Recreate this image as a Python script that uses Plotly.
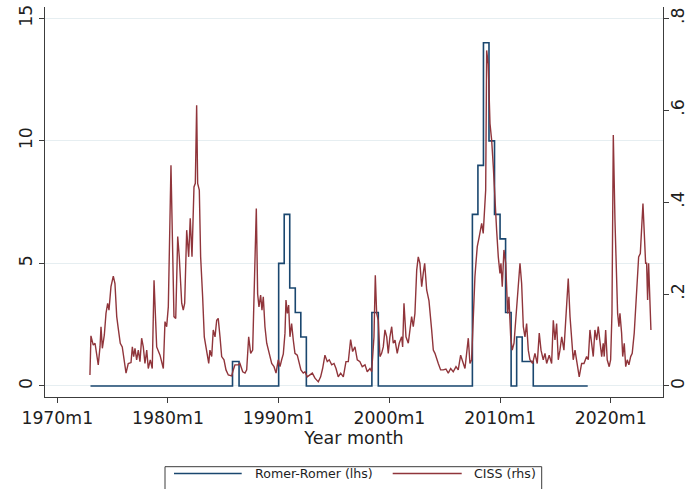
import plotly.graph_objects as go

# Romer-Romer monetary shock index (left axis), stepwise: value holds until next date
rr_year = [1973.0, 1985.83, 1986.42, 1990.0, 1990.5, 1991.0, 1991.5, 1992.0, 1992.5,
           1998.42, 1999.0, 2007.5, 2008.0, 2008.5, 2009.0, 2009.5, 2010.0, 2010.5,
           2011.0, 2011.5, 2012.0, 2013.0, 2017.92]
rr_value = [0, 1, 0, 5, 7, 4, 3, 2, 0,
            3, 0, 7, 9, 14, 10, 7, 6, 3,
            0, 2, 1, 0, 0]

# CISS financial stress index (right axis)
ciss_year = [
    1972.95, 1973.04, 1973.25, 1973.41, 1973.70, 1973.86, 1973.95, 1974.07, 1974.25, 1974.40,
    1974.55, 1974.67, 1974.85, 1975.06, 1975.21, 1975.37, 1975.51, 1975.69, 1975.87, 1976.05,
    1976.21, 1976.41, 1976.66, 1976.78, 1976.90, 1977.02, 1977.17, 1977.32, 1977.47, 1977.62,
    1977.77, 1977.92, 1978.08, 1978.22, 1978.40, 1978.58, 1978.74, 1978.98, 1979.28, 1979.58,
    1979.73, 1979.88, 1980.03, 1980.27, 1980.54, 1980.70, 1980.88, 1981.02, 1981.24, 1981.38,
    1981.51, 1981.69, 1981.87, 1982.01, 1982.17, 1982.35, 1982.47, 1982.59, 1982.68, 1982.83,
    1982.95, 1983.13, 1983.28, 1983.43, 1983.55, 1983.68, 1983.79, 1983.95, 1984.09, 1984.25,
    1984.40, 1984.54, 1984.70, 1984.85, 1985.06, 1985.24, 1985.45, 1985.75, 1985.90, 1986.05,
    1986.35, 1986.50, 1986.75, 1986.96, 1987.11, 1987.29, 1987.47, 1987.65, 1987.86, 1987.98,
    1988.10, 1988.22, 1988.37, 1988.49, 1988.61, 1988.76, 1988.92, 1989.15, 1989.37, 1989.58,
    1989.76, 1989.96, 1990.12, 1990.27, 1990.42, 1990.57, 1990.66, 1990.78, 1990.90, 1991.02,
    1991.17, 1991.32, 1991.47, 1991.68, 1991.83, 1992.01, 1992.22, 1992.38, 1992.58, 1992.83,
    1993.04, 1993.28, 1993.58, 1993.79, 1993.97, 1994.18, 1994.39, 1994.57, 1994.79, 1995.00,
    1995.18, 1995.38, 1995.60, 1995.84, 1996.08, 1996.29, 1996.50, 1996.68, 1996.89, 1997.10,
    1997.34, 1997.55, 1997.80, 1998.00, 1998.25, 1998.40, 1998.61, 1998.73, 1998.85, 1999.00,
    1999.15, 1999.30, 1999.45, 1999.60, 1999.76, 1999.90, 2000.05, 2000.21, 2000.35, 2000.51,
    2000.71, 2000.89, 2001.11, 2001.20, 2001.32, 2001.50, 2001.71, 2001.86, 2002.01, 2002.16,
    2002.31, 2002.47, 2002.61, 2002.76, 2002.92, 2003.06, 2003.19, 2003.37, 2003.58, 2003.82,
    2003.97, 2004.12, 2004.27, 2004.42, 2004.63, 2004.87, 2005.11, 2005.32, 2005.54, 2005.77,
    2006.02, 2006.22, 2006.44, 2006.68, 2006.83, 2007.13, 2007.28, 2007.43, 2007.58, 2007.73,
    2007.82, 2007.94, 2008.12, 2008.34, 2008.48, 2008.57, 2008.70, 2008.79, 2008.93, 2009.09,
    2009.24, 2009.39, 2009.54, 2009.69, 2009.84, 2009.99, 2010.08, 2010.20, 2010.35, 2010.51,
    2010.69, 2010.80, 2010.96, 2011.10, 2011.26, 2011.44, 2011.64, 2011.80, 2011.95, 2012.10,
    2012.25, 2012.40, 2012.55, 2012.70, 2012.95, 2013.15, 2013.36, 2013.54, 2013.70, 2013.90,
    2014.06, 2014.21, 2014.44, 2014.66, 2014.81, 2014.96, 2015.11, 2015.26, 2015.41, 2015.57,
    2015.77, 2015.95, 2016.16, 2016.32, 2016.47, 2016.61, 2016.77, 2016.97, 2017.15, 2017.37,
    2017.58, 2017.82, 2017.97, 2018.12, 2018.27, 2018.42, 2018.57, 2018.73, 2018.87, 2019.02,
    2019.18, 2019.32, 2019.41, 2019.54, 2019.68, 2019.86, 2019.99, 2020.11, 2020.23, 2020.38,
    2020.53, 2020.62, 2020.74, 2020.83, 2020.98, 2021.08, 2021.22, 2021.35, 2021.49, 2021.64,
    2021.80, 2021.94, 2022.12, 2022.25, 2022.39, 2022.52, 2022.67, 2022.79, 2022.91, 2023.03,
    2023.15, 2023.24, 2023.33, 2023.42, 2023.54, 2023.63,
]
ciss_value = [
    0.024, 0.109, 0.089, 0.093, 0.046, 0.085, 0.129, 0.082, 0.111, 0.158,
    0.180, 0.165, 0.216, 0.239, 0.223, 0.151, 0.125, 0.093, 0.085, 0.053,
    0.028, 0.049, 0.051, 0.085, 0.064, 0.082, 0.057, 0.078, 0.053, 0.104,
    0.085, 0.049, 0.078, 0.038, 0.057, 0.038, 0.230, 0.085, 0.067, 0.038,
    0.140, 0.129, 0.172, 0.480, 0.151, 0.147, 0.325, 0.281, 0.180, 0.165,
    0.180, 0.339, 0.281, 0.365, 0.281, 0.433, 0.441, 0.611, 0.441, 0.426,
    0.281, 0.194, 0.107, 0.085, 0.064, 0.049, 0.078, 0.064, 0.122, 0.107,
    0.143, 0.147, 0.107, 0.064, 0.057, 0.035, 0.024, 0.022, 0.035, 0.046,
    0.046, 0.049, 0.031, 0.028, 0.035, 0.107, 0.071, 0.078, 0.274, 0.386,
    0.200, 0.172, 0.198, 0.165, 0.194, 0.129, 0.093, 0.071, 0.049, 0.042,
    0.028, 0.057, 0.042, 0.057, 0.070, 0.115, 0.187, 0.158, 0.176, 0.107,
    0.136, 0.100, 0.071, 0.067, 0.049, 0.035, 0.028, 0.031, 0.020, 0.024,
    0.028, 0.017, 0.009, 0.020, 0.038, 0.067, 0.053, 0.057, 0.046, 0.049,
    0.038, 0.020, 0.028, 0.020, 0.053, 0.053, 0.101, 0.075, 0.085, 0.057,
    0.053, 0.042, 0.046, 0.031, 0.038, 0.031, 0.107, 0.241, 0.158, 0.143,
    0.064, 0.071, 0.085, 0.122, 0.107, 0.071, 0.107, 0.129, 0.093, 0.100,
    0.071, 0.093, 0.107, 0.085, 0.180, 0.107, 0.093, 0.122, 0.151, 0.129,
    0.158, 0.252, 0.281, 0.267, 0.216, 0.245, 0.267, 0.209, 0.185, 0.122,
    0.078, 0.071, 0.057, 0.049, 0.035, 0.035, 0.037, 0.028, 0.038, 0.031,
    0.042, 0.035, 0.067, 0.049, 0.038, 0.104, 0.049, 0.057, 0.172, 0.238,
    0.267, 0.303, 0.325, 0.354, 0.332, 0.368, 0.426, 0.730, 0.700, 0.571,
    0.535, 0.477, 0.397, 0.339, 0.281, 0.245, 0.267, 0.216, 0.296, 0.267,
    0.158, 0.194, 0.107, 0.078, 0.093, 0.158, 0.223, 0.267, 0.223, 0.129,
    0.107, 0.136, 0.078, 0.057, 0.049, 0.071, 0.049, 0.115, 0.078, 0.057,
    0.071, 0.049, 0.067, 0.049, 0.143, 0.100, 0.136, 0.057, 0.078, 0.107,
    0.078, 0.151, 0.234, 0.151, 0.107, 0.057, 0.078, 0.042, 0.020, 0.049,
    0.049, 0.064, 0.057, 0.122, 0.085, 0.064, 0.122, 0.100, 0.129, 0.100,
    0.064, 0.093, 0.064, 0.122, 0.057, 0.042, 0.057, 0.158, 0.546, 0.361,
    0.245, 0.158, 0.129, 0.158, 0.115, 0.064, 0.093, 0.042, 0.057, 0.046,
    0.064, 0.071, 0.115, 0.172, 0.216, 0.281, 0.288, 0.346, 0.397, 0.332,
    0.267, 0.267, 0.187, 0.267, 0.147, 0.122,
]

x_ticks = [1970, 1980, 1990, 2000, 2010, 2020]
x_ticktext = ["1970m1", "1980m1", "1990m1", "2000m1", "2010m1", "2020m1"]
lhs_ticks = [0, 5, 10, 15]
rhs_ticks = [0, 0.2, 0.4, 0.6, 0.8]
rhs_ticktext = ["0", ".2", ".4", ".6", ".8"]

NAVY = "#1a476f"
MAROON = "#90353b"
AXIS = "#3c3c3c"
TEXT = "#1e1e1e"
FONT = "DejaVu Sans"

W, H = 688, 489
ML, MR, MT, MB = 45, 25, 7, 92
PW, PH = W - ML - MR, H - MT - MB


def px_x(px):
    return (px - ML) / PW


def px_y(py):
    return (H - MB - py) / PH


fig = go.Figure()
fig.add_trace(go.Scatter(
    x=rr_year, y=rr_value, mode="lines", name="Romer-Romer (lhs)",
    line=dict(color=NAVY, width=1.6, shape="hv"), yaxis="y",
))
fig.add_trace(go.Scatter(
    x=ciss_year, y=ciss_value, mode="lines", name="CISS (rhs)",
    line=dict(color=MAROON, width=1.4), yaxis="y2",
))

lhs_range = [-0.449, 15.46]
rhs_range = [v * 0.8 / 15 for v in lhs_range]

tick_font = dict(family=FONT, size=17.3, color=TEXT)

fig.update_layout(
    width=W, height=H,
    margin=dict(l=ML, r=MR, t=MT, b=MB, autoexpand=False),
    paper_bgcolor="white", plot_bgcolor="white",
    showlegend=False,
    font=dict(family=FONT, color=TEXT),
    xaxis=dict(
        range=[1968.89, 2024.72], tickvals=x_ticks, ticktext=x_ticktext,
        ticks="outside", ticklen=5, tickcolor=AXIS, tickwidth=1,
        showline=True, linecolor=AXIS, linewidth=1, automargin=False,
        showgrid=False, zeroline=False, tickfont=tick_font,
        title=dict(text="Year month", font=dict(family=FONT, size=17.5, color=TEXT), standoff=2),
    ),
    yaxis=dict(
        range=lhs_range, tickvals=lhs_ticks, tickangle=-90,
        ticks="outside", ticklen=5, tickcolor=AXIS, tickwidth=1,
        showline=True, linecolor=AXIS, linewidth=1, automargin=False,
        showgrid=True, gridcolor="#e6eef1", gridwidth=1, zeroline=False,
        tickfont=tick_font,
    ),
    yaxis2=dict(
        range=rhs_range, tickvals=rhs_ticks, ticktext=rhs_ticktext, tickangle=-90,
        overlaying="y", side="right", automargin=False,
        ticks="outside", ticklen=5, tickcolor=AXIS, tickwidth=1,
        showline=True, linecolor=AXIS, linewidth=1,
        showgrid=False, zeroline=False, tickfont=tick_font,
        ticklabelstandoff=-6,
    ),
)

# Legend drawn as a framed key below the axis title
legend_top = 466.7
legend_mid = 473.5
shapes = [
    dict(type="rect", xref="paper", yref="paper",
         x0=px_x(165), x1=px_x(541.7), y0=px_y(500), y1=px_y(legend_top),
         line=dict(color=AXIS, width=1), fillcolor="rgba(0,0,0,0)"),
    dict(type="line", xref="paper", yref="paper",
         x0=px_x(174), x1=px_x(241.7), y0=px_y(legend_mid), y1=px_y(legend_mid),
         line=dict(color=NAVY, width=1.6)),
    dict(type="line", xref="paper", yref="paper",
         x0=px_x(392.7), x1=px_x(461.7), y0=px_y(legend_mid), y1=px_y(legend_mid),
         line=dict(color=MAROON, width=1.4)),
]
annotations = [
    dict(text="Romer-Romer (lhs)", xref="paper", yref="paper",
         x=px_x(252.7), y=px_y(legend_mid), xanchor="left", yanchor="middle",
         showarrow=False, font=dict(family=FONT, size=12.6, color=TEXT)),
    dict(text="CISS (rhs)", xref="paper", yref="paper",
         x=px_x(471.7), y=px_y(legend_mid), xanchor="left", yanchor="middle",
         showarrow=False, font=dict(family=FONT, size=12.6, color=TEXT)),
]
fig.update_layout(shapes=shapes, annotations=annotations)

fig.write_html("out.html")
